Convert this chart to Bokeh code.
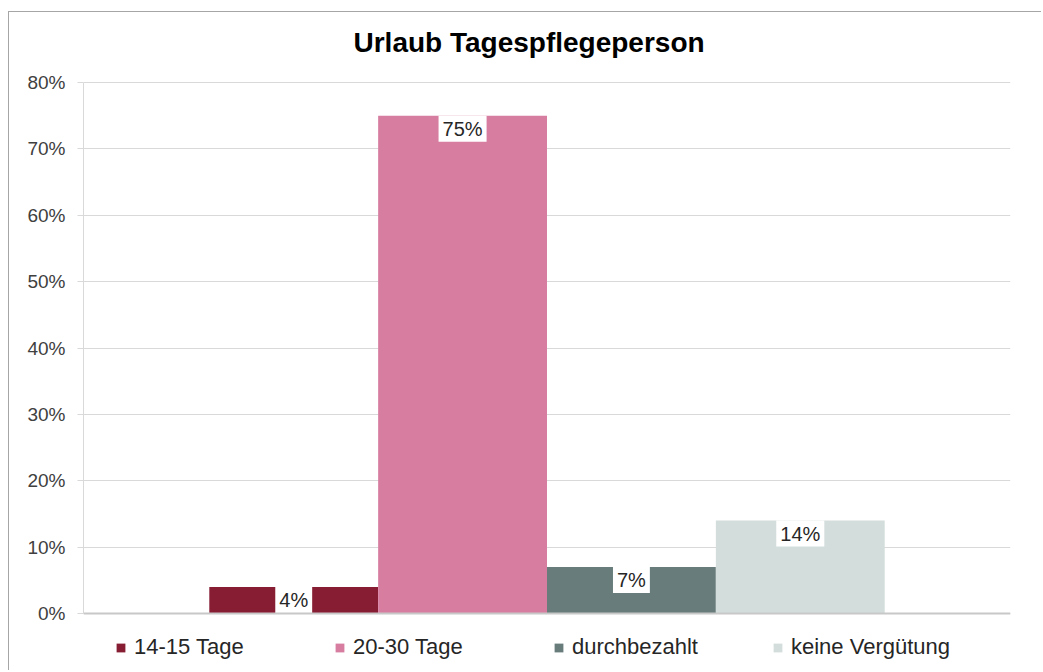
from bokeh.plotting import figure
from bokeh.models import (ColumnDataSource, FactorRange, Range1d, NumeralTickFormatter,
                          SingleIntervalTicker, Span, Label)
from bokeh.core.properties import value
from bokeh.embed import file_html
from bokeh.resources import INLINE

title_text = "Urlaub Tagespflegeperson"
categories = ["14-15 Tage", "20-30 Tage", "durchbezahlt", "keine Vergütung"]
shares = [0.04, 0.75, 0.07, 0.14]
colors = ["#861D33", "#D77EA0", "#677C7B", "#D3DEDC"]
labels = [f"{round(v * 100)}%" for v in shares]

FONT = "Liberation Sans"

src = ColumnDataSource(dict(cat=categories, val=shares, col=colors, lab=labels))

# the frame fills the figure vertically: title above 80 %, legend below 0 %
p = figure(width=1033, height=659, output_backend="svg", toolbar_location=None,
           x_range=FactorRange(factors=categories, range_padding=0.3725,
                               range_padding_units="percent"),
           y_range=Range1d(-0.0874, 0.9055),
           min_border_left=74, min_border_right=32, min_border_top=0,
           min_border_bottom=0)
p.styles = {"border-top": "1px solid #a6a6a6", "border-left": "1px solid #a6a6a6",
            "margin-top": "11px", "margin-left": "8px"}

p.background_fill_color = "white"
p.border_fill_color = "white"
p.outline_line_color = None

p.add_layout(Label(x=270, y=629, x_units="screen", y_units="screen", text=title_text,
                   text_font=FONT, text_font_size="28px", text_font_style="bold",
                   text_color="#000000", text_align="left",
                   text_baseline="alphabetic"))

r = p.vbar(x="cat", top="val", width=1.0, source=src, fill_color="col",
           line_color=None, legend_field="cat")

p.text(x="cat", y="val", text="lab", source=src, y_offset=0,
       text_align="center", text_baseline="top", text_font=value(FONT),
       text_font_size="20px", text_color="#262626",
       background_fill_color="white", padding=(4, 2))

p.add_layout(Span(location=0, dimension="width", line_color="#c8c8c8", line_width=2))

p.xaxis.visible = False
p.xgrid.visible = False
p.ygrid.grid_line_color = "#d9d9d9"

ya = p.yaxis[0]
ya.bounds = (0, 0.8)
ya.ticker = SingleIntervalTicker(interval=0.1)
ya.formatter = NumeralTickFormatter(format="0%")
ya.axis_line_color = "#d9d9d9"
ya.major_tick_line_color = "#d9d9d9"
ya.major_tick_out = 6
ya.major_tick_in = 0
ya.minor_tick_line_color = None
ya.major_label_text_font = FONT
ya.major_label_text_font_size = "19px"
ya.major_label_text_color = "#404040"
ya.major_label_standoff = 12

leg = p.legend[0]
leg.orientation = "horizontal"
leg.location = (32, 11)
leg.label_text_font = FONT
leg.label_text_font_size = "22px"
leg.label_text_color = "#262626"
leg.glyph_width = 11
leg.glyph_height = 11
leg.label_standoff = 8
leg.label_width = 179
leg.spacing = 21
leg.padding = 0
leg.margin = 0
leg.border_line_color = None
leg.background_fill_alpha = 0

open("out.html", "w").write(file_html(p, INLINE))
